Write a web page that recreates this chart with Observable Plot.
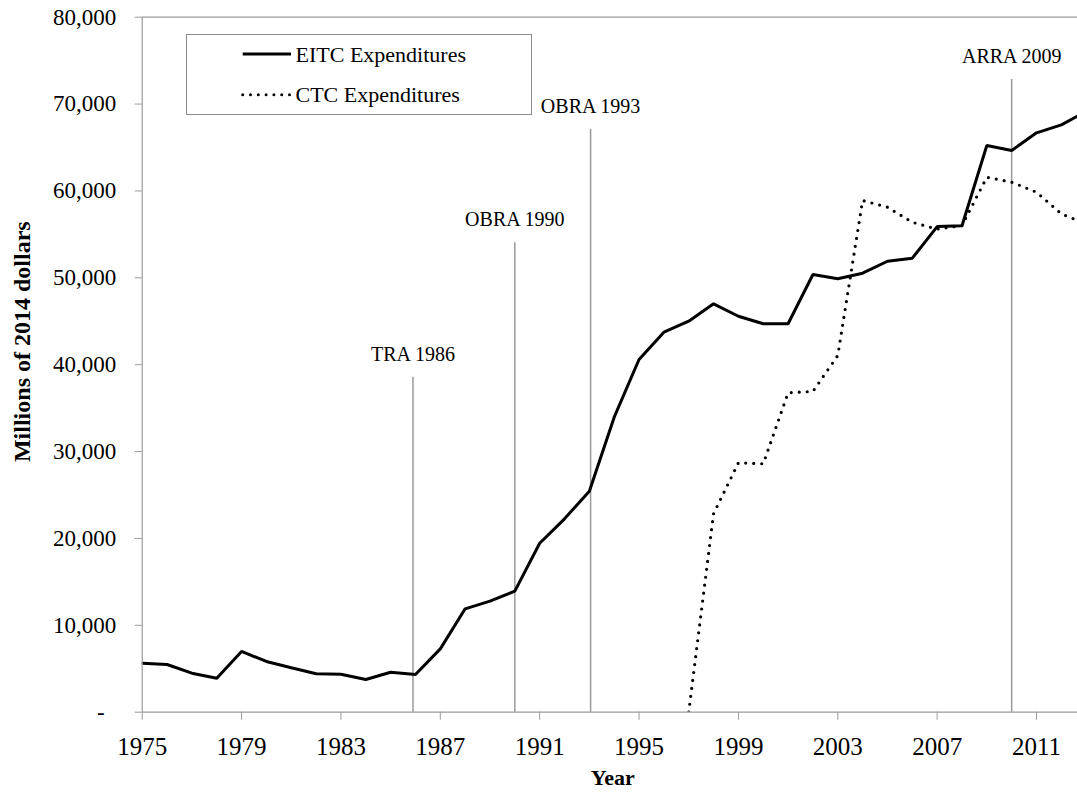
<!DOCTYPE html>
<html>
<head>
<meta charset="utf-8">
<script src="https://cdn.jsdelivr.net/npm/d3@7"></script>
<script src="https://cdn.jsdelivr.net/npm/@observablehq/plot@0.6"></script>
<style>
  html, body { margin: 0; padding: 0; background: #fff; overflow: hidden; }
  #wrap { position: relative; width: 1077px; height: 793px; font-family: "Liberation Serif", serif; }
  #legend { position: absolute; left: 186px; top: 34px; width: 346px; height: 81px; box-sizing: border-box; border: 1px solid #8c8c8c; background: #fff; }
</style>
</head>
<body>
<div id="wrap"><div id="chart"></div><div id="legend"></div></div>
<script>
// ---- data ----
const years = [1975,1976,1977,1978,1979,1980,1981,1982,1983,1984,1985,1986,1987,1988,1989,1990,1991,1992,1993,1994,1995,1996,1997,1998,1999,2000,2001,2002,2003,2004,2005,2006,2007,2008,2009,2010,2011,2012,2013];
const eitc = [5640,5490,4490,3910,6990,5840,5110,4420,4370,3760,4600,4340,7290,11900,12780,13930,19450,22260,25440,33960,40600,43740,45010,47010,45580,44710,44710,50380,49890,50530,51910,52260,55900,56000,65230,64660,66690,67610,69150];
const ctcYears = [1997,1998,1999,2000,2001,2002,2003,2004,2005,2006,2007,2008,2009,2010,2011,2012,2013];
const ctc = [0,22840,28710,28590,36770,36920,41060,58900,58130,56400,55600,56020,61580,61010,59860,57370,56200];
const seriesNames = ["EITC Expenditures", "CTC Expenditures"];
const eventLabels = ["TRA 1986", "OBRA 1990", "OBRA 1993", "ARRA 2009"];
const eventX = [1985.9, 1990, 1993.05, 2010];
const eventTop = [38560, 54030, 67110, 72830];
const xTicks = [1975,1979,1983,1987,1991,1995,1999,2003,2007,2011];
const yTicks = [0,10000,20000,30000,40000,50000,60000,70000,80000];
const xTitle = "Year";
const yTitle = "Millions of 2014 dollars";

const eitcData = years.map((y, i) => ({year: y, value: eitc[i]}));
const ctcData = ctcYears.map((y, i) => ({year: y, value: ctc[i]}));
const events = eventLabels.map((l, i) => ({label: l, x: eventX[i], top: eventTop[i]}));

const gray = "#9a9a9a";
const fmt = d3.format(",");

const chart = Plot.plot({
  width: 1077,
  height: 793,
  marginLeft: 141.7,
  marginRight: 0,
  marginTop: 16.7,
  marginBottom: 81.3,
  style: {fontFamily: "Liberation Serif, serif", color: "black", background: "white"},
  x: {domain: [1975, 2012.65]},
  y: {domain: [0, 80000]},
  marks: [
    Plot.ruleY([80000], {stroke: gray, strokeWidth: 1.2}),
    Plot.ruleX(events, {x: "x", y1: 0, y2: "top", stroke: gray, strokeWidth: 1.5}),
    Plot.text(events, {x: "x", y: "top", text: "label", dy: -23, fontSize: 20, fill: "black", lineAnchor: "middle"}),
    Plot.line(ctcData, {x: "year", y: "value", stroke: "black", strokeWidth: 3.2, strokeDasharray: "0 8", strokeLinecap: "round", clip: true}),
    Plot.line(eitcData, {x: "year", y: "value", stroke: "black", strokeWidth: 3, strokeLinejoin: "miter", clip: true}),
    Plot.ruleY([0], {stroke: gray, strokeWidth: 1.2}),
    Plot.ruleX([1975], {stroke: gray, strokeWidth: 1.2}),
    Plot.axisX(xTicks, {tickSize: 8, tickPadding: 17, fontSize: 25, tickFormat: d => String(d), stroke: gray, fill: "black", label: null}),
    Plot.axisY(yTicks, {tickSize: 7, tickPadding: 19, fontSize: 23, tickFormat: d => d === 0 ? "-  " : fmt(d), stroke: gray, fill: "black", label: null}),
    Plot.text([yTitle], {frameAnchor: "left", rotate: -90, dx: -119.7, dy: -23, fontSize: 24, fontWeight: "bold", fill: "black", textAnchor: "middle", lineAnchor: "middle"}),
    Plot.text([xTitle], {frameAnchor: "bottom", dx: 3, dy: 66, fontSize: 22, fontWeight: "bold", fill: "black", textAnchor: "middle", lineAnchor: "middle"})
  ]
});
document.getElementById("chart").appendChild(chart);

// ---- legend (inside plot area, as in the reference) ----
const lg = d3.select("#legend").append("svg").attr("width", 344).attr("height", 79)
  .style("font-family", "Liberation Serif, serif");
const rows = [20, 60.7];
seriesNames.forEach((name, i) => {
  const g = lg.append("g").attr("transform", `translate(0,${rows[i] - 1})`);
  g.append("line").attr("x1", 55.7).attr("x2", 104).attr("y1", 0).attr("y2", 0)
    .attr("stroke", "black").attr("stroke-width", 3)
    .attr("stroke-dasharray", i === 1 ? "0 7.8" : null)
    .attr("stroke-linecap", i === 1 ? "round" : "butt");
  g.append("text").attr("x", 108.5).attr("y", 0).attr("dy", "0.35em")
    .attr("font-size", 22).attr("fill", "black").text(name);
});
</script>
</body>
</html>
